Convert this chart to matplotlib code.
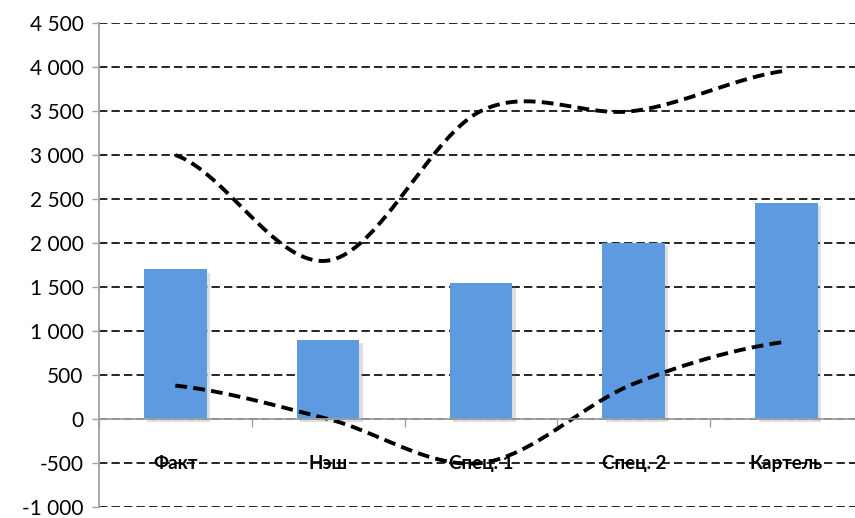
import numpy as np
import matplotlib.pyplot as plt
import matplotlib.patheffects as pe
from matplotlib.ticker import FuncFormatter

plt.rcParams['font.family'] = ['Lato', 'DejaVu Sans']
plt.rcParams['lines.scale_dashes'] = False

categories = ['Факт', 'Нэш', 'Спец. 1', 'Спец. 2', 'Картель']
bar_values = [1700, 900, 1540, 2000, 2460]
upper_values = [3000, 1800, 3500, 3500, 3960]
lower_values = [380, 0, -500, 400, 880]
y_ticks = [-1000, -500, 0, 500, 1000, 1500, 2000, 2500, 3000, 3500, 4000, 4500]


def smooth(ys, n=40):
    # Catmull-Rom, roughly what Excel's "smoothed line" does
    ys = np.asarray(ys, float)
    p = np.concatenate([[ys[0]], ys, [ys[-1]]])
    xs_out, ys_out = [], []
    for i in range(len(ys) - 1):
        t = np.linspace(0, 1, n, endpoint=False)
        p0, p1, p2, p3 = p[i], p[i + 1], p[i + 2], p[i + 3]
        y = 0.5 * (2 * p1 + (-p0 + p2) * t + (2 * p0 - 5 * p1 + 4 * p2 - p3) * t ** 2
                   + (-p0 + 3 * p1 - 3 * p2 + p3) * t ** 3)
        xs_out.append(i + t)
        ys_out.append(y)
    xs_out.append([len(ys) - 1])
    ys_out.append([ys[-1]])
    return np.concatenate(xs_out), np.concatenate(ys_out)


fig = plt.figure(figsize=(8.55, 5.18), dpi=100)
ax = fig.add_axes([98.9 / 855, 1 - 507 / 518, 764 / 855, (507 - 23) / 518])

x = np.arange(len(categories))
bars = ax.bar(x, bar_values, width=0.41, color='#5D9AE0', zorder=2)
for b in bars:
    b.set_path_effects([pe.SimplePatchShadow(offset=(2.5, -2.5), shadow_rgbFace='#808080', alpha=0.25),
                        pe.Normal()])

for vals in (upper_values, lower_values):
    sx, sy = smooth(vals)
    ax.plot(sx, sy, color='black', lw=2.8, dashes=(8.5, 4.5), zorder=3)

ax.set_xlim(-0.5, 4.5)
ax.set_ylim(-1000, 4500)
ax.set_yticks(y_ticks)
ax.yaxis.set_major_formatter(FuncFormatter(lambda v, p: f'{int(v):,}'.replace(',', ' ')))
ax.grid(axis='y', color='black', lw=1.2, dashes=(6, 3), zorder=1)
ax.set_axisbelow(True)

for s in ('top', 'right'):
    ax.spines[s].set_visible(False)
ax.spines['left'].set_color('#A0A0A0')
ax.spines['left'].set_linewidth(1.3)
ax.spines['bottom'].set_position(('data', 0))
ax.spines['bottom'].set_color('#A0A0A0')
ax.spines['bottom'].set_linewidth(1.3)
ax.spines['bottom'].set_zorder(4)

ax.tick_params(axis='y', length=5, width=1, color='#A0A0A0', labelsize=15, pad=6)
ax.set_xticks(x)
ax.set_xticklabels(categories, fontweight='bold', fontsize=13.5)
ax.set_xticks(np.arange(-0.5, 5, 1), minor=True)
ax.tick_params(axis='x', which='major', length=0, pad=26)
ax.tick_params(axis='x', which='minor', length=6, width=1, color='#A0A0A0')

fig.savefig('out.png', dpi=100)
